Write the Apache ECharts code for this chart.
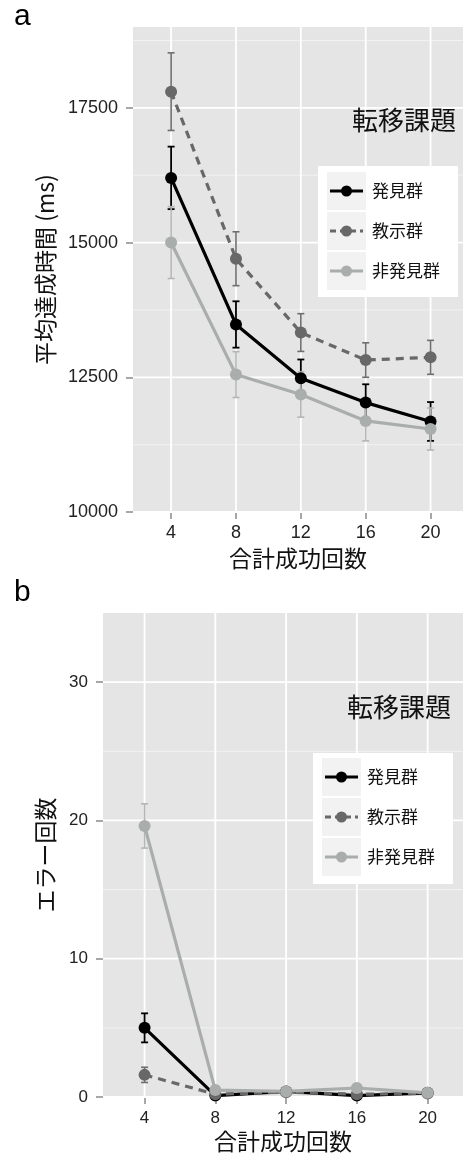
<!DOCTYPE html>
<html>
<head>
<meta charset="utf-8">
<script src="https://cdn.jsdelivr.net/npm/echarts@6/dist/echarts.min.js"></script>
<style>
  html, body { margin: 0; padding: 0; background: #fff; }
  #chart { width: 463px; height: 1155px; }
</style>
</head>
<body>
<div id="chart"></div>
<script>
// ---- data ----
const trials = [4, 8, 12, 16, 20];
const groups = ['発見群', '教示群', '非発見群'];

// panel a: mean completion time (ms) and error-bar half widths
const timeFinders = [16200, 13480, 12480, 12030, 11680];
const timeFindersErr = [580, 430, 350, 340, 360];
const timeTaught = [17800, 14700, 13330, 12820, 12870];
const timeTaughtErr = [720, 500, 350, 320, 315];
const timeNonFinders = [15000, 12550, 12180, 11690, 11540];
const timeNonFindersErr = [667, 425, 420, 370, 390];

// panel b: error counts and error-bar half widths
const errFinders = [5.0, 0.1, 0.4, 0.1, 0.3];
const errFindersErr = [1.05, 0.15, 0.15, 0.15, 0.15];
const errTaught = [1.6, 0.2, 0.35, 0.2, 0.25];
const errTaughtErr = [0.55, 0.15, 0.15, 0.15, 0.15];
const errNonFinders = [19.6, 0.5, 0.4, 0.65, 0.3];
const errNonFindersErr = [1.6, 0.2, 0.2, 0.2, 0.15];

// axis ticks
const xTicks = [4, 8, 12, 16, 20];
const yTicksA = [10000, 12500, 15000, 17500];
const yMinorA = [11250, 13750, 16250, 18750];
const yTicksB = [0, 10, 20, 30];
const yMinorB = [5, 15, 25];

const panelTitle = '転移課題';
const xName = '合計成功回数';
const yNameA = '平均達成時間 (ms)';
const yNameB = 'エラー回数';

// ---- styles ----
const colors = ['#000000', '#686868', '#a9adab'];
const errColors = ['#000000', '#6e6e6e', '#b2b6b4'];
const dashes = ['solid', [8, 6], 'solid'];
const labelFont = 'Liberation Sans, Arial, sans-serif';
const cjkFont = '"Noto Sans CJK JP", "Noto Sans", sans-serif';

const pair = (xs, ys) => xs.map((x, i) => [x, ys[i]]);
const bars = (xs, ys, es) => xs.map((x, i) => [x, ys[i] - es[i], ys[i] + es[i]]);

function errorBarRenderer(color, width) {
  return function (params, api) {
    const x = api.value(0);
    const lo = api.coord([x, api.value(1)]);
    const hi = api.coord([x, api.value(2)]);
    const cap = 3.5;
    const st = { stroke: color, lineWidth: width };
    return {
      type: 'group',
      children: [
        { type: 'line', shape: { x1: lo[0], y1: lo[1], x2: hi[0], y2: hi[1] }, style: st },
        { type: 'line', shape: { x1: lo[0] - cap, y1: lo[1], x2: lo[0] + cap, y2: lo[1] }, style: st },
        { type: 'line', shape: { x1: hi[0] - cap, y1: hi[1], x2: hi[0] + cap, y2: hi[1] }, style: st }
      ]
    };
  };
}

// panel grid lines: [value, orientation (0 = vertical, 1 = horizontal), major flag]
function gridLineRenderer(params, api) {
  const cs = params.coordSys;
  const v = api.value(0), horiz = api.value(1) === 1, major = api.value(2) === 1;
  const style = { stroke: major ? '#ffffff' : '#f2f2f2', lineWidth: major ? 1.8 : 1 };
  if (horiz) {
    const yy = api.coord([trials[0], v])[1];
    return { type: 'line', shape: { x1: cs.x, y1: yy, x2: cs.x + cs.width, y2: yy }, style };
  }
  const xx = api.coord([v, 0])[0];
  return { type: 'line', shape: { x1: xx, y1: cs.y, x2: xx, y2: cs.y + cs.height }, style };
}

function gridLineData(yMajor, yMinor) {
  return [
    ...yMinor.map(v => [v, 1, 0]),
    ...yMajor.map(v => [v, 1, 1]),
    ...xTicks.map(v => [v, 0, 1])
  ];
}

function panelSeries(gridIndex, values, errs) {
  const out = [{
    type: 'custom', xAxisIndex: gridIndex, yAxisIndex: gridIndex, z: 1, silent: true,
    renderItem: gridLineRenderer,
    data: gridIndex === 0 ? gridLineData(yTicksA, yMinorA) : gridLineData(yTicksB, yMinorB)
  }];
  values.forEach((vals, g) => {
    out.push({
      type: 'custom', name: groups[g] + '_err', xAxisIndex: gridIndex, yAxisIndex: gridIndex, z: 2,
      silent: true,
      renderItem: errorBarRenderer(errColors[g], g === 0 ? 1.8 : 1.6),
      encode: { x: 0, y: [1, 2] },
      data: bars(trials, vals, errs[g])
    });
  });
  values.forEach((vals, g) => {
    out.push({
      type: 'line', name: groups[g], xAxisIndex: gridIndex, yAxisIndex: gridIndex, z: 3,
      data: pair(trials, vals),
      symbol: 'circle', symbolSize: 12, showSymbol: true, animation: false,
      lineStyle: { color: colors[g], width: 3.2, type: dashes[g] },
      itemStyle: { color: colors[g], borderWidth: 0 },
      emphasis: { disabled: true }
    });
  });
  return out;
}

function xAxisFor(gridIndex, fontSize, margin, nameGap) {
  return {
    type: 'value', gridIndex, min: 1.65, max: 22,
    axisLine: { show: false },
    splitLine: { show: false },
    axisTick: { show: true, customValues: xTicks, length: 7, lineStyle: { color: '#8a8a8a', width: 1.5 } },
    axisLabel: { customValues: xTicks, fontFamily: labelFont, fontSize, color: '#222', margin },
    name: xName, nameLocation: 'middle', nameGap,
    nameTextStyle: { fontFamily: cjkFont, fontSize: 23, color: '#111' }
  };
}

function yAxisFor(gridIndex, min, max, ticks, fontSize, name, nameGap) {
  return {
    type: 'value', gridIndex, min, max,
    axisLine: { show: false },
    splitLine: { show: false },
    axisTick: { show: true, customValues: ticks, length: 7, lineStyle: { color: '#8a8a8a', width: 1.5 } },
    axisLabel: { customValues: ticks, fontFamily: labelFont, fontSize, color: '#222', margin: 15,
      formatter: v => String(v) },
    name, nameLocation: 'middle', nameGap, nameRotate: 90,
    nameTextStyle: { fontFamily: cjkFont, fontSize: 23, color: '#111' }
  };
}

function legendGraphic(boxX, boxY, keyX, keyY0, textX) {
  const items = [{
    type: 'rect', shape: { x: boxX, y: boxY, width: 140, height: 131 },
    style: { fill: '#ffffff' }, z: 10
  }];
  groups.forEach((name, g) => {
    const ky = keyY0 + g * 40;
    const cy = ky + 19;
    items.push({ type: 'rect', shape: { x: keyX, y: ky, width: 39, height: 38 }, style: { fill: '#f2f2f2' }, z: 11 });
    items.push({
      type: 'line', shape: { x1: keyX + 3, y1: cy, x2: keyX + 36, y2: cy },
      style: { stroke: colors[g], lineWidth: 3, lineDash: g === 1 ? [6, 4] : null }, z: 12
    });
    items.push({ type: 'circle', shape: { cx: keyX + 19.5, cy, r: 5.5 }, style: { fill: colors[g] }, z: 13 });
    items.push({
      type: 'text', x: textX, y: cy,
      style: { text: name, font: '17px ' + cjkFont, fill: '#111', textVerticalAlign: 'middle' }, z: 13
    });
  });
  return items;
}

const option = {
  animation: false,
  backgroundColor: '#ffffff',
  grid: [
    { left: 133, top: 27, width: 330, height: 485, show: true, backgroundColor: '#e5e5e5', borderWidth: 0 },
    { left: 103, top: 613, width: 360, height: 484, show: true, backgroundColor: '#e5e5e5', borderWidth: 0 }
  ],
  xAxis: [xAxisFor(0, 18, 12, 35), xAxisFor(1, 17, 13, 33)],
  yAxis: [
    yAxisFor(0, 10000, 19000, yTicksA, 18, yNameA, 76),
    yAxisFor(1, 0, 35, yTicksB, 17, yNameB, 46)
  ],
  series: [
    ...panelSeries(0, [timeFinders, timeTaught, timeNonFinders],
      [timeFindersErr, timeTaughtErr, timeNonFindersErr]),
    ...panelSeries(1, [errFinders, errTaught, errNonFinders],
      [errFindersErr, errTaughtErr, errNonFindersErr])
  ],
  graphic: [
    { type: 'text', x: 14, y: 2, style: { text: 'a', font: '30px ' + labelFont, fill: '#000' } },
    { type: 'text', x: 14, y: 578, style: { text: 'b', font: '30px ' + labelFont, fill: '#000' } },
    { type: 'text', x: 456, y: 120, style: { text: panelTitle, font: '26px ' + cjkFont, fill: '#111', textAlign: 'right', textVerticalAlign: 'middle' }, z: 10 },
    { type: 'text', x: 451, y: 707, style: { text: panelTitle, font: '26px ' + cjkFont, fill: '#111', textAlign: 'right', textVerticalAlign: 'middle' }, z: 10 },
    ...legendGraphic(318, 166, 327, 172, 372),
    ...legendGraphic(313, 753, 322, 758, 367)
  ]
};

const chart = echarts.init(document.getElementById('chart'), null, { renderer: 'canvas' });
chart.setOption(option);
</script>
</body>
</html>
